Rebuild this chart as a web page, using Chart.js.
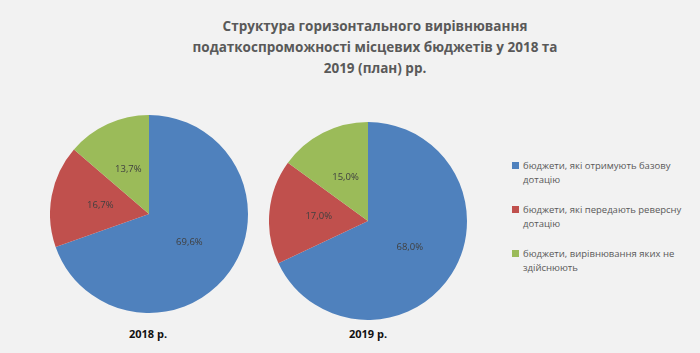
<!DOCTYPE html>
<html>
<head>
<meta charset="utf-8">
<script src="https://cdn.jsdelivr.net/npm/chart.js@4/dist/chart.umd.min.js"></script>
<style>
  html, body { margin: 0; padding: 0; }
  body { width: 700px; height: 353px; background: #f2f2f2; position: relative; overflow: hidden; font-family: "Open Sans", sans-serif; }
  #title { position: absolute; left: 175px; width: 400px; top: 16px; text-align: center; font-weight: bold; font-size: 13.5px; line-height: 21px; color: #595959; }
  .pie { position: absolute; width: 198px; height: 198px; }
  .year { position: absolute; width: 100px; text-align: center; font-weight: bold; font-size: 11px; color: #111; }
  #legend { position: absolute; left: 512px; top: 159px; width: 180px; font-size: 9.5px; line-height: 14px; color: #595959; }
  #legend .item { position: relative; padding-left: 11px; margin-bottom: 16px; }
  #legend .box { position: absolute; left: 0; top: 3px; width: 7px; height: 7px; }
</style>
</head>
<body>
<div id="title">Структура горизонтального вирівнювання<br>податкоспроможності місцевих бюджетів у 2018 та<br>2019 (план) рр.</div>
<div class="pie" style="left:50px; top:115px;"><canvas id="pie2018"></canvas></div>
<div class="pie" style="left:269px; top:122px;"><canvas id="pie2019"></canvas></div>
<div class="year" style="left:98px; top:326px;">2018 р.</div>
<div class="year" style="left:318px; top:326px;">2019 р.</div>
<div id="legend"></div>
<script>
const categories = [
  'бюджети, які отримують базову дотацію',
  'бюджети, які передають реверсну дотацію',
  'бюджети, вирівнювання яких не здійснюють'
];
const values2018 = [69.6, 16.7, 13.7];
const values2019 = [68.0, 17.0, 15.0];
const colors = ['#4f81bd', '#c0504d', '#9bbb59'];

// percent labels in the middle of each slice
const sliceLabels = {
  id: 'sliceLabels',
  afterDatasetsDraw(chart) {
    const ctx = chart.ctx;
    const ds = chart.data.datasets[0];
    ctx.save();
    ctx.font = '9.5px "Open Sans", sans-serif';
    ctx.fillStyle = '#404040';
    ctx.textAlign = 'center';
    ctx.textBaseline = 'middle';
    chart.getDatasetMeta(0).data.forEach((arc, i) => {
      const p = arc.tooltipPosition();
      ctx.fillText(ds.data[i].toFixed(1).replace('.', ',') + '%', p.x, p.y);
    });
    ctx.restore();
  }
};

function makePie(id, values) {
  new Chart(document.getElementById(id), {
    type: 'pie',
    data: {
      labels: categories,
      datasets: [{ data: values, backgroundColor: colors, borderWidth: 0 }]
    },
    options: {
      responsive: true,
      maintainAspectRatio: false,
      animation: false,
      layout: { padding: 0 },
      plugins: { legend: { display: false }, tooltip: { enabled: false } }
    },
    plugins: [sliceLabels]
  });
}

makePie('pie2018', values2018);
makePie('pie2019', values2019);

const legend = document.getElementById('legend');
categories.forEach((name, i) => {
  const item = document.createElement('div');
  item.className = 'item';
  item.innerHTML = '<span class="box" style="background:' + colors[i] + '"></span>' + name;
  legend.appendChild(item);
});
</script>
</body>
</html>
